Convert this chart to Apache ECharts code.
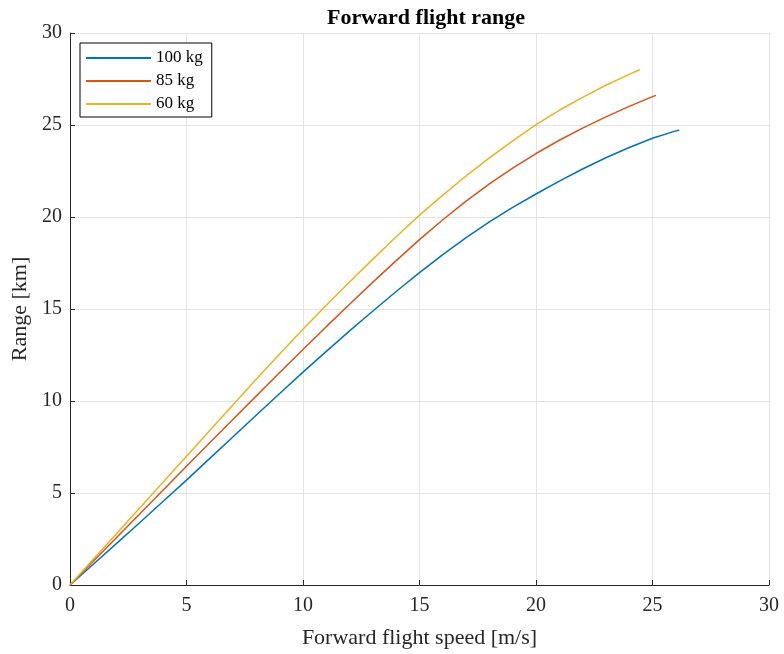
<!DOCTYPE html>
<html>
<head>
<meta charset="utf-8">
<script src="https://cdn.jsdelivr.net/npm/echarts@6/dist/echarts.min.js"></script>
<style>html,body{margin:0;padding:0;background:#fff;}#c{width:784px;height:654px;}</style>
</head>
<body>
<div id="c"></div>
<script>
const speeds100 = [0, 1, 2, 3, 4, 5, 6, 7, 8, 9, 10, 11, 12, 13, 14, 15, 16, 17, 18, 19, 20, 21, 22, 23, 24, 25, 26, 26.15];
const range100  = [0, 1.13, 2.26, 3.4, 4.55, 5.7, 6.88, 8.06, 9.24, 10.41, 11.57, 12.7, 13.81, 14.89, 15.95, 16.98, 17.96, 18.88, 19.73, 20.52, 21.25, 21.95, 22.61, 23.22, 23.78, 24.28, 24.68, 24.72];
const speeds85 = [0, 1, 2, 3, 4, 5, 6, 7, 8, 9, 10, 11, 12, 13, 14, 15, 16, 17, 18, 19, 20, 21, 22, 23, 24, 25, 25.15];
const range85  = [0, 1.29, 2.58, 3.87, 5.16, 6.45, 7.73, 9.01, 10.28, 11.55, 12.8, 14.04, 15.26, 16.46, 17.63, 18.77, 19.85, 20.86, 21.8, 22.66, 23.45, 24.17, 24.83, 25.44, 26.01, 26.54, 26.61];
const speeds60 = [0, 1, 2, 3, 4, 5, 6, 7, 8, 9, 10, 11, 12, 13, 14, 15, 16, 17, 18, 19, 20, 21, 22, 23, 24, 24.45];
const range60  = [0, 1.4, 2.8, 4.2, 5.6, 7.0, 8.4, 9.8, 11.19, 12.56, 13.9, 15.2, 16.47, 17.71, 18.93, 20.1, 21.19, 22.23, 23.21, 24.14, 25.02, 25.8, 26.5, 27.16, 27.75, 28.0];
const seriesNames = ['100 kg', '85 kg', '60 kg'];
const colors = ['#0072BD', '#D95319', '#EDB120'];
const xTicks = [0, 5, 10, 15, 20, 25, 30];
const yTicks = [0, 5, 10, 15, 20, 25, 30];

const zip = (a, b) => a.map((v, i) => [v, b[i]]);
const allData = [zip(speeds100, range100), zip(speeds85, range85), zip(speeds60, range60)];
const font = 'Liberation Serif, Times New Roman, serif';

const chart = echarts.init(document.getElementById('c'), null, {renderer: 'canvas'});
chart.setOption({
  backgroundColor: '#fff',
  animation: false,
  title: {
    text: 'Forward flight range',
    left: 421, top: 2, textAlign: 'center',
    textStyle: {fontFamily: font, fontSize: 22, fontWeight: 'bold', color: '#000'}
  },
  legend: {
    left: 80, top: 43,
    orient: 'vertical',
    data: seriesNames.map(n => ({name: n, icon: 'rect'})),
    itemWidth: 65, itemHeight: 2, itemGap: 3,
    padding: [5, 9, 3, 6],
    borderColor: '#000', borderWidth: 1,
    backgroundColor: '#fff',
    textStyle: {fontFamily: font, fontSize: 17, color: '#000', lineHeight: 20}
  },
  grid: {left: 70, right: 15, top: 33, bottom: 68},
  xAxis: {
    type: 'value', min: xTicks[0], max: xTicks[xTicks.length - 1], interval: 5,
    name: 'Forward flight speed [m/s]', nameLocation: 'middle', nameGap: 42,
    nameTextStyle: {fontFamily: font, fontSize: 22, color: '#262626'},
    axisLine: {show: true, lineStyle: {color: '#262626', width: 1}},
    axisTick: {show: true, inside: true, length: 5, lineStyle: {color: '#262626'}},
    axisLabel: {fontFamily: font, fontSize: 20, color: '#262626', margin: 11},
    splitLine: {show: true, lineStyle: {color: '#e3e3e3', width: 1}}
  },
  yAxis: {
    type: 'value', min: yTicks[0], max: yTicks[yTicks.length - 1], interval: 5,
    name: 'Range [km]', nameLocation: 'middle', nameGap: 34,
    nameTextStyle: {fontFamily: font, fontSize: 22, color: '#262626'},
    axisLine: {show: true, lineStyle: {color: '#262626', width: 1}},
    axisTick: {show: true, inside: true, length: 5, lineStyle: {color: '#262626'}},
    axisLabel: {fontFamily: font, fontSize: 20, color: '#262626', margin: 8},
    splitLine: {show: true, lineStyle: {color: '#e3e3e3', width: 1}}
  },
  series: seriesNames.map((n, i) => ({
    name: n, type: 'line', data: allData[i],
    showSymbol: false, smooth: false,
    color: colors[i],
    lineStyle: {color: colors[i], width: 1.5},
    z: 3 + i
  }))
});
</script>
</body>
</html>
